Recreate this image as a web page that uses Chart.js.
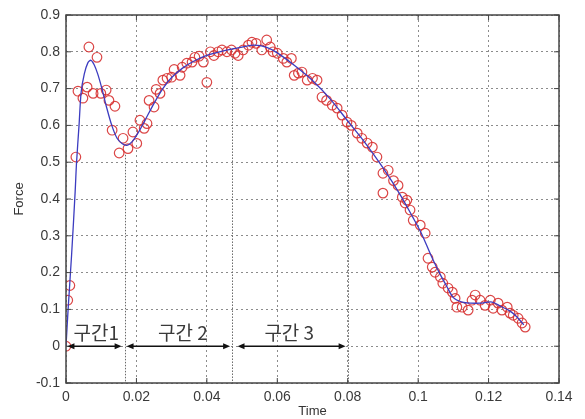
<!DOCTYPE html>
<html><head><meta charset="utf-8">
<script src="https://cdn.jsdelivr.net/npm/chart.js@4/dist/chart.umd.min.js"></script>
<style>html,body{margin:0;padding:0;background:#fff;}#wrap{width:585px;height:419px;}</style>
</head><body><div id="wrap"><canvas id="c" width="585" height="419"></canvas></div>
<script>
// ---- data ----
const timeObs = [0,0.0005,0.0011,0.0028,0.0034,0.0048,0.006,0.0065,0.0077,0.0088,0.0099,0.0114,0.0122,0.0131,0.0139,0.0151,0.0162,0.0176,0.019,0.0201,0.021,0.0222,0.023,0.0236,0.025,0.0256,0.0267,0.0275,0.0287,0.030,0.0307,0.0324,0.033,0.0343,0.0358,0.0366,0.0378,0.039,0.040,0.041,0.042,0.0432,0.0443,0.0457,0.047,0.048,0.0489,0.0503,0.0518,0.0528,0.054,0.0556,0.057,0.058,0.0588,0.060,0.0617,0.0627,0.064,0.0648,0.066,0.067,0.0685,0.070,0.0713,0.0727,0.074,0.0756,0.077,0.0784,0.0798,0.081,0.0827,0.084,0.0855,0.087,0.0883,0.090,0.090,0.0915,0.093,0.0943,0.0955,0.0963,0.0968,0.0977,0.0986,0.1006,0.102,0.1028,0.104,0.1048,0.1063,0.107,0.1085,0.1097,0.1105,0.111,0.1125,0.1142,0.1153,0.1162,0.1176,0.119,0.1205,0.1213,0.1227,0.1238,0.1253,0.1261,0.127,0.1284,0.1295,0.1304];
const forceObs = [0,0.125,0.165,0.514,0.693,0.674,0.704,0.813,0.687,0.785,0.687,0.696,0.668,0.587,0.652,0.525,0.565,0.537,0.582,0.551,0.614,0.592,0.605,0.668,0.65,0.698,0.687,0.723,0.728,0.731,0.752,0.736,0.758,0.769,0.772,0.785,0.788,0.772,0.717,0.80,0.79,0.80,0.805,0.80,0.805,0.796,0.79,0.805,0.818,0.826,0.823,0.805,0.832,0.813,0.80,0.796,0.782,0.772,0.782,0.736,0.742,0.745,0.723,0.728,0.723,0.677,0.668,0.655,0.647,0.628,0.609,0.60,0.579,0.565,0.552,0.541,0.514,0.47,0.416,0.478,0.45,0.437,0.405,0.389,0.397,0.37,0.342,0.329,0.307,0.239,0.215,0.201,0.188,0.171,0.158,0.147,0.13,0.106,0.106,0.098,0.125,0.139,0.125,0.111,0.125,0.103,0.117,0.098,0.106,0.09,0.084,0.076,0.063,0.052];

const timeFit = [0,0.0006,0.0016,0.0026,0.003,0.0037,0.0043,0.0052,0.0062,0.0071,0.008,0.009,0.0102,0.0115,0.013,0.0145,0.016,0.0173,0.0188,0.0205,0.0225,0.025,0.0275,0.03,0.033,0.036,0.04,0.045,0.05,0.0535,0.057,0.06,0.065,0.07,0.075,0.08,0.085,0.09,0.095,0.0985,0.101,0.1035,0.106,0.108,0.11,0.1125,0.115,0.1176,0.121,0.1235,0.126,0.128,0.13];
const forceFit = [0,0.1,0.25,0.42,0.5,0.6,0.69,0.74,0.77,0.777,0.765,0.74,0.70,0.65,0.6,0.565,0.55,0.546,0.556,0.58,0.615,0.66,0.70,0.73,0.755,0.773,0.79,0.803,0.813,0.818,0.812,0.797,0.762,0.722,0.672,0.612,0.552,0.485,0.41,0.35,0.305,0.25,0.2,0.165,0.132,0.12,0.117,0.117,0.12,0.108,0.096,0.08,0.058];

const xTicks = [0,0.02,0.04,0.06,0.08,0.1,0.12,0.14];
const yTicks = [-0.1,0,0.1,0.2,0.3,0.4,0.5,0.6,0.7,0.8,0.9];

const regionLabels = ['구간1','구간 2','구간 3'];
const regionStart = [0.0004,0.0172,0.0487];
const regionEnd = [0.0158,0.0466,0.0794];
const regionLabelT = [0.0086,0.0332,0.0634];
const regionLabelF = 0.036;
const regionArrowF = 0;
const dividerT = [0.0168,0.0471,0.08];
const dividerTop = [0.52,0.79,0.6];

// ---- chart ----
const fitData = timeFit.map((t,i)=>({x:t,y:forceFit[i]}));
const obsData = timeObs.map((t,i)=>({x:t,y:forceObs[i]}));

const frameAndNotes = {
  id:'frameAndNotes',
  beforeDatasetsDraw(chart){
    const {ctx, scales:{x,y}} = chart;
    ctx.save();
    ctx.strokeStyle='#6a6a6a'; ctx.lineWidth=1; ctx.setLineDash([1.5,1.5]);
    dividerT.forEach((t,i)=>{
      const px = Math.round(x.getPixelForValue(t))+0.5;
      ctx.beginPath(); ctx.moveTo(px,y.getPixelForValue(dividerTop[i])); ctx.lineTo(px,y.getPixelForValue(-0.1)); ctx.stroke();
    });
    ctx.restore();
  },
  afterDraw(chart){
    const {ctx, chartArea:a, scales:{x,y}} = chart;
    ctx.save();
    ctx.strokeStyle='#454545'; ctx.lineWidth=1.5;
    ctx.strokeRect(a.left,a.top,a.right-a.left,a.bottom-a.top);
    ctx.lineWidth=1;
    ctx.beginPath();
    xTicks.forEach(v=>{const px=x.getPixelForValue(v);ctx.moveTo(px,a.bottom);ctx.lineTo(px,a.bottom-5);ctx.moveTo(px,a.top);ctx.lineTo(px,a.top+5);});
    yTicks.forEach(v=>{const py=y.getPixelForValue(v);ctx.moveTo(a.left,py);ctx.lineTo(a.left+5,py);ctx.moveTo(a.right,py);ctx.lineTo(a.right-5,py);});
    ctx.stroke();
    ctx.strokeStyle='#111'; ctx.fillStyle='#111'; ctx.lineWidth=1.6;
    const py = y.getPixelForValue(regionArrowF);
    regionStart.forEach((s,i)=>{
      const x1=x.getPixelForValue(s), x2=x.getPixelForValue(regionEnd[i]);
      ctx.beginPath(); ctx.moveTo(x1+3,py); ctx.lineTo(x2-3,py); ctx.stroke();
      ctx.beginPath(); ctx.moveTo(x1,py); ctx.lineTo(x1+7,py-3); ctx.lineTo(x1+7,py+3); ctx.closePath(); ctx.fill();
      ctx.beginPath(); ctx.moveTo(x2,py); ctx.lineTo(x2-7,py-3); ctx.lineTo(x2-7,py+3); ctx.closePath(); ctx.fill();
    });
    ctx.fillStyle='#3a3a3a'; ctx.font='19px "Noto Sans CJK KR"'; ctx.textAlign='center'; ctx.textBaseline='middle';
    regionLabels.forEach((l,i)=>ctx.fillText(l,x.getPixelForValue(regionLabelT[i]),y.getPixelForValue(regionLabelF)));
    ctx.restore();
  }
};

const tickFont = {family:'"Liberation Sans", Arial, sans-serif', size:14};
new Chart(document.getElementById('c'), {
  type:'scatter',
  data:{datasets:[
    {label:'fit', data:fitData, showLine:true, borderColor:'#3c3cc0', borderWidth:1.3, pointRadius:0, tension:0.3, order:1},
    {label:'measured', data:obsData, showLine:false, pointStyle:'circle', pointRadius:4.8, borderColor:'rgba(215,50,50,0.9)', backgroundColor:'rgba(0,0,0,0)', borderWidth:1.2, order:2}
  ]},
  options:{
    responsive:false, animation:false,
    layout:{padding:{top:15,right:26,left:0,bottom:0}},
    plugins:{legend:{display:false}, tooltip:{enabled:false}},
    scales:{
      x:{type:'linear', min:0, max:0.14,
        afterBuildTicks:s=>{s.ticks=xTicks.map(v=>({value:v}));},
        afterFit:s=>{s.height=36;},
        ticks:{callback:v=>String(v), color:'#3a3a3a', font:tickFont, padding:6, maxRotation:0, autoSkip:false},
        grid:{color:'#8c8c8c', lineWidth:1, drawTicks:false},
        border:{display:false, dash:[2,3]},
        title:{display:true, text:'Time', color:'#333', font:{family:'"Liberation Sans", Arial, sans-serif', size:13}, padding:{top:0,bottom:0}}
      },
      y:{type:'linear', min:-0.1, max:0.9,
        afterBuildTicks:s=>{s.ticks=yTicks.map(v=>({value:v}));},
        afterFit:s=>{s.width=66;},
        ticks:{callback:v=>String(v), color:'#3a3a3a', font:tickFont, padding:6, autoSkip:false},
        grid:{color:'#8c8c8c', lineWidth:1, drawTicks:false},
        border:{display:false, dash:[2,3]},
        title:{display:true, text:'Force', color:'#333', font:{family:'"Liberation Sans", Arial, sans-serif', size:13}, padding:{top:12,bottom:0}}
      }
    }
  },
  plugins:[frameAndNotes]
});
</script></body></html>
